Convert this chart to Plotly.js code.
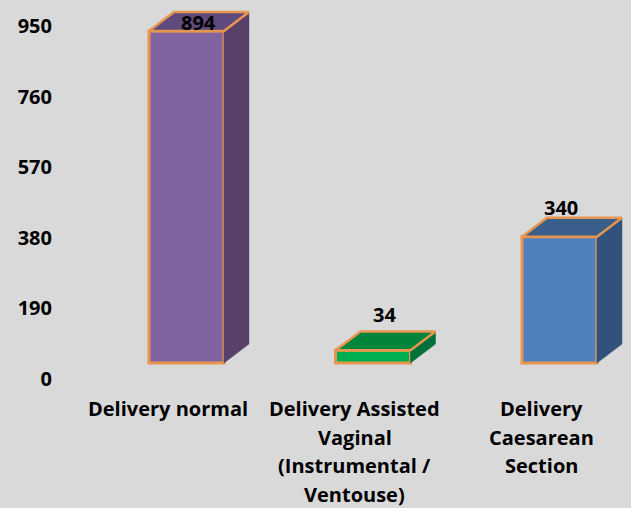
<!DOCTYPE html>
<html>
<head>
<meta charset="utf-8">
<script src="https://cdn.plot.ly/plotly-3.0.1.min.js"></script>
<style>html,body{margin:0;padding:0;background:#D9D9D9;overflow:hidden}</style>
</head>
<body>
<div id="chart" style="width:631px;height:508px"></div>
<script>
// Data
const categoryLines = [
  ["Delivery normal"],
  ["Delivery Assisted", "Vaginal", "(Instrumental /", "Ventouse)"],
  ["Delivery", "Caesarean", "Section"]
];
const values = [894, 34, 340];
const yTicks = [0, 190, 380, 570, 760, 950];

// Styles
const frontColors = ["#8064A2", "#00B050", "#4F81BD"];
const topColors = ["#5F4A7E", "#00853B", "#3A5F8D"];
const sideColors = ["#574168", "#00703A", "#31527B"];
const edge = "#E8964F";
const textFont = "'Open Sans', Lato, sans-serif";
const barWidth = 0.402;
const depthX = 0.134;
const depthY = 51;
const labelOffsets = [[12, 8], [11.5, 36], [1.5, 29]];
const lineCenterShift = -18.5;
const firstLineDrop = 45.5;
const lineStep = 28.7;

const positions = values.map((_, i) => i);
const traces = [{
  type: "bar",
  x: positions,
  y: values,
  width: barWidth,
  marker: {color: frontColors, line: {color: edge, width: 3}},
  hoverinfo: "skip",
  showlegend: false
}];

values.forEach((v, i) => {
  const l = i - barWidth / 2, r = i + barWidth / 2;
  traces.push({
    type: "scatter", mode: "lines", fill: "toself", fillcolor: sideColors[i],
    x: [r, r + depthX, r + depthX, r, r],
    y: [0, depthY, v + depthY, v, 0],
    line: {color: sideColors[i], width: 0.5},
    hoverinfo: "skip", showlegend: false
  });
  traces.push({
    type: "scatter", mode: "lines", fill: "toself", fillcolor: topColors[i],
    x: [l, l + depthX, r + depthX, r, l],
    y: [v, v + depthY, v + depthY, v, v],
    line: {color: edge, width: 2.5},
    hoverinfo: "skip", showlegend: false
  });
});

const annotations = [];
values.forEach((v, i) => {
  annotations.push({
    x: i, y: v, xref: "x", yref: "y", text: String(v), showarrow: false,
    xshift: labelOffsets[i][0], yshift: labelOffsets[i][1],
    xanchor: "center", yanchor: "middle",
    font: {family: textFont, size: 20, color: "#000", weight: 700}
  });
});
categoryLines.forEach((lines, i) => {
  lines.forEach((line, j) => {
    annotations.push({
      x: i, y: 0, xref: "x", yref: "y", text: line, showarrow: false,
      xshift: lineCenterShift, yshift: -(firstLineDrop + j * lineStep),
      xanchor: "center", yanchor: "middle",
      font: {family: textFont, size: 20, color: "#000", weight: 700}
    });
  });
});

const layout = {
  width: 631, height: 508,
  margin: {l: 53, r: 0, t: 0, b: 130},
  paper_bgcolor: "#D9D9D9",
  plot_bgcolor: "#D9D9D9",
  font: {family: textFont, color: "#000"},
  showlegend: false,
  hovermode: false,
  xaxis: {
    range: [-0.7158, 2.3834], visible: false, fixedrange: true
  },
  yaxis: {
    range: [-40.4, 977.4], tickmode: "array", tickvals: yTicks,
    ticktext: yTicks.map(String),
    ticklabelshift: 16,
    showgrid: false, zeroline: false, showline: false, ticks: "",
    tickfont: {family: textFont, size: 20, color: "#000", weight: 700},
    fixedrange: true
  },
  annotations
};
Plotly.newPlot("chart", traces, layout, {displayModeBar: false, staticPlot: true});
</script>
</body>
</html>
